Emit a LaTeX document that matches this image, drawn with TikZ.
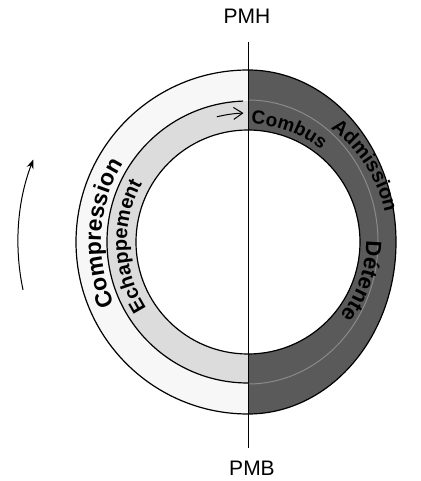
\documentclass[tikz,border=0pt]{standalone}
\usepackage{fontspec}
\setmainfont{Liberation Sans}
\usetikzlibrary{decorations.text, arrows.meta}
\definecolor{bandlight}{HTML}{F7F7F7}
\definecolor{bandmid}{HTML}{DCDCDC}
\definecolor{banddark}{HTML}{5A5A5A}
\definecolor{bandline}{HTML}{8A8A8A}
\tikzset{
  ringline/.style={draw=black, line width=1.2pt},
  label/.style={font=\fontsize{21}{21}\selectfont, inner sep=0pt},
  bandtext/.style={decoration={text along path, text align=center, text={#1}}, decorate}
}
\begin{document}
\begin{tikzpicture}[x=1pt, y=1pt, line join=round]
\useasboundingbox (-248,-239) rectangle (172,242);
\coordinate (C) at (0,0);
% left outer band (Compression)
\fill[bandlight] (90:172) arc[start angle=90, end angle=270, radius=172] -- (270:141) arc[start angle=270, end angle=90, radius=141] -- cycle;
% left inner band (Echappement)
\fill[bandmid] (90:141) arc[start angle=90, end angle=270, radius=141] -- (270:112) arc[start angle=270, end angle=90, radius=112] -- cycle;
% right dark half ring
\fill[banddark] (0,172) arc[start angle=90, end angle=-90, x radius=148, y radius=172] -- (0,-112) arc[start angle=-90, end angle=90, radius=112] -- cycle;
\draw[bandline, line width=1pt] (0,142) arc[start angle=90, end angle=-90, x radius=130, y radius=142];
% outlines
\draw[ringline] (90:172) arc[start angle=90, end angle=270, radius=172];
\draw[ringline] (0,172) arc[start angle=90, end angle=-90, x radius=148, y radius=172];
\draw[ringline] (92:141) arc[start angle=92, end angle=270, radius=141];
\draw[ringline] (C) ++(90:112) arc[start angle=90, end angle=450, radius=112];
% arrow head of the exhaust band
\draw[line width=1pt, -{Straight Barb[length=9pt, width=12pt]}] (104:129) arc[start angle=104, end angle=92, radius=129];
% texts along the bands
\path[bandtext={|\bfseries\fontsize{23}{23}\selectfont|Compression}] (212:147) arc[start angle=212, end angle=141, radius=147];
\path[bandtext={|\bfseries\fontsize{20}{20}\selectfont|Echappement}] (216:121) arc[start angle=216, end angle=148, radius=121];
\path[bandtext={|\bfseries\fontsize{20}{20}\selectfont|Admission}] (60:140) arc[start angle=60, end angle=6, radius=140];
\path[bandtext={|\bfseries\fontsize{19}{19}\selectfont|Combus}] (88:118) arc[start angle=88, end angle=52, radius=118];
\path[bandtext={|\bfseries\fontsize{22}{22}\selectfont|Détente}] (6:118) arc[start angle=6, end angle=-44, radius=118];
% vertical axis
\coordinate (top) at (0,200);
\coordinate (bot) at (0,-206);
\draw[line width=1pt] (top) -- (bot);
\node[label] (pmh) at (-1,226) {PMH};
\node[label] (pmb) at (4,-226) {PMB};
% rotation arrow
\coordinate (rs) at (192:230);
\draw[line width=1pt, -{Stealth[length=9pt, width=7pt]}] (rs) arc[start angle=192, end angle=159, radius=230];
\end{tikzpicture}
\end{document}
